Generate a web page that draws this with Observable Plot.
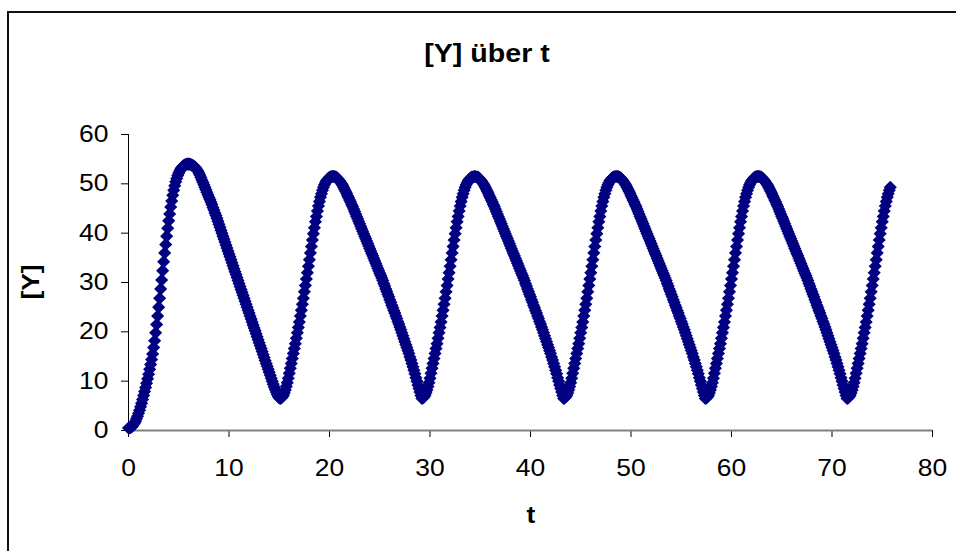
<!DOCTYPE html>
<html>
<head>
<meta charset="utf-8">
<script src="https://cdn.jsdelivr.net/npm/d3@7"></script>
<script src="https://cdn.jsdelivr.net/npm/@observablehq/plot@0.6"></script>
<style>
  html, body { margin: 0; padding: 0; background: #fff; }
  body { font-family: "Liberation Sans", Arial, sans-serif; color: #000; }
  #wrap { position: relative; width: 956px; height: 551px; overflow: hidden; }
  #frame { position: absolute; left: 7px; top: 11px; width: 1200px; height: 800px;
           border-left: 2px solid #111; border-top: 2px solid #111; }
  #chart { position: absolute; left: 0; top: 0; }
  .lbl { position: absolute; font-weight: bold; white-space: nowrap; line-height: 1; }
  #title { left: 487px; top: 53px; font-size: 26px; transform: translate(-50%, -50%) scaleX(1.1); }
  #ylab { left: 31px; top: 282px; font-size: 24px; transform: translate(-50%, -50%) rotate(-90deg) scaleX(1.1); }
  #xlab { left: 531px; top: 515px; font-size: 24px; transform: translate(-50%, -50%) scaleX(1.1); }
</style>
</head>
<body>
<div id="wrap">
  <div id="frame"></div>
  <div id="chart"></div>
  <div class="lbl" id="title">[Y] über t</div>
  <div class="lbl" id="ylab">[Y]</div>
  <div class="lbl" id="xlab">t</div>
</div>
<script>
// ---- data: [Y] sampled every 0.1 time units ----
const dt = 0.1;
const xTicks = [0, 10, 20, 30, 40, 50, 60, 70, 80];
const yTicks = [0, 10, 20, 30, 40, 50, 60];

// t = 0.0 .. 15.0 : first rise and fall
const yStart = [
0.5,0.5,0.6,0.7,0.9,1.2,1.5,1.9,2.4,2.9,
3.5,4.1,4.8,5.5,6.3,7.1,7.9,8.7,9.6,10.5,
11.4,12.4,13.4,14.4,15.5,16.8,18.2,19.8,21.5,23.2,
25.0,26.8,28.7,30.5,32.4,34.2,36.0,37.7,39.4,41.0,
42.5,43.9,45.3,46.5,47.7,48.7,49.6,50.4,51.1,51.7,
52.2,52.6,53.0,53.3,53.5,53.7,53.8,53.9,54.0,54.0,
54.0,54.0,53.9,53.8,53.7,53.6,53.4,53.2,52.9,52.6,
52.2,51.8,51.3,50.8,50.3,49.8,49.3,48.8,48.3,47.8,
47.3,46.8,46.3,45.8,45.2,44.7,44.1,43.6,43.0,42.4,
41.8,41.2,40.6,40.0,39.4,38.8,38.2,37.6,37.0,36.4,
35.8,35.2,34.6,34.0,33.4,32.8,32.2,31.6,31.0,30.4,
29.8,29.2,28.6,28.0,27.4,26.8,26.2,25.6,25.0,24.4,
23.8,23.2,22.6,22.0,21.4,20.8,20.2,19.6,19.0,18.4,
17.8,17.2,16.6,16.0,15.4,14.8,14.2,13.6,13.0,12.4,
11.8,11.2,10.6,10.0,9.4,8.8,8.3,7.8,7.3,6.9,
6.6];

// t = 15.1 .. 29.1
const yCycle1 = [
6.5,6.6,6.8,7.1,7.6,8.2,8.9,9.7,10.6,11.6,
12.6,13.6,14.6,15.6,16.6,17.6,18.7,19.8,20.9,22.0,
23.2,24.4,25.6,26.8,28.1,29.4,30.7,32.0,33.3,34.6,
36.0,37.3,38.6,39.9,41.1,42.3,43.4,44.5,45.5,46.4,
47.3,48.0,48.7,49.3,49.8,50.2,50.6,50.9,51.1,51.3,
51.4,51.5,51.5,51.5,51.5,51.4,51.3,51.1,50.9,50.6,
50.3,50.0,49.7,49.3,48.9,48.5,48.1,47.6,47.2,46.7,
46.3,45.8,45.4,44.9,44.4,43.9,43.4,42.9,42.4,41.9,
41.4,40.9,40.4,39.9,39.4,38.9,38.4,37.9,37.4,36.9,
36.4,35.9,35.4,34.9,34.4,33.9,33.4,32.9,32.4,31.9,
31.4,30.9,30.4,29.8,29.3,28.7,28.2,27.6,27.1,26.5,
26.0,25.4,24.9,24.3,23.8,23.2,22.7,22.1,21.6,21.0,
20.4,19.8,19.2,18.6,18.0,17.4,16.8,16.2,15.6,14.9,
14.3,13.6,12.9,12.2,11.5,10.7,10.0,9.2,8.5,7.8,
7.1];

// t = 29.2 .. 43.2
const yCycle2 = [
6.5,6.6,6.8,7.1,7.6,8.2,8.9,9.7,10.6,11.6,
12.6,13.6,14.6,15.6,16.6,17.6,18.7,19.8,20.9,22.0,
23.2,24.4,25.6,26.8,28.1,29.4,30.7,32.0,33.3,34.6,
36.0,37.3,38.6,39.9,41.1,42.3,43.4,44.5,45.5,46.4,
47.3,48.0,48.7,49.3,49.8,50.2,50.6,50.9,51.1,51.3,
51.4,51.4,51.5,51.5,51.4,51.4,51.3,51.1,50.9,50.6,
50.3,50.0,49.7,49.3,48.9,48.5,48.1,47.6,47.2,46.7,
46.3,45.8,45.4,44.9,44.4,43.9,43.4,42.9,42.4,41.9,
41.4,40.9,40.4,39.9,39.4,38.9,38.4,37.9,37.4,36.9,
36.4,35.9,35.4,34.9,34.4,33.9,33.4,32.9,32.4,31.9,
31.4,30.9,30.4,29.8,29.3,28.7,28.2,27.6,27.1,26.5,
26.0,25.4,24.9,24.3,23.8,23.2,22.7,22.1,21.6,21.0,
20.4,19.8,19.2,18.6,18.0,17.4,16.8,16.2,15.6,14.9,
14.3,13.6,12.9,12.2,11.5,10.7,10.0,9.2,8.5,7.8,
7.1];

// t = 43.3 .. 57.3
const yCycle3 = [
6.5,6.6,6.8,7.1,7.6,8.2,8.9,9.7,10.6,11.6,
12.6,13.6,14.6,15.6,16.6,17.6,18.7,19.8,20.9,22.0,
23.2,24.4,25.6,26.8,28.1,29.4,30.7,32.0,33.3,34.6,
36.0,37.3,38.6,39.9,41.1,42.3,43.4,44.5,45.5,46.4,
47.3,48.0,48.7,49.3,49.8,50.2,50.6,50.9,51.1,51.3,
51.4,51.5,51.5,51.5,51.5,51.4,51.3,51.1,50.9,50.6,
50.3,50.0,49.7,49.3,48.9,48.5,48.1,47.6,47.2,46.7,
46.3,45.8,45.4,44.9,44.4,43.9,43.4,42.9,42.4,41.9,
41.4,40.9,40.4,39.9,39.4,38.9,38.4,37.9,37.4,36.9,
36.4,35.9,35.4,34.9,34.4,33.9,33.4,32.9,32.4,31.9,
31.4,30.9,30.4,29.8,29.3,28.7,28.2,27.6,27.1,26.5,
26.0,25.4,24.9,24.3,23.8,23.2,22.7,22.1,21.6,21.0,
20.4,19.8,19.2,18.6,18.0,17.4,16.8,16.2,15.6,14.9,
14.3,13.6,12.9,12.2,11.5,10.7,10.0,9.2,8.5,7.8,
7.1];

// t = 57.4 .. 71.4
const yCycle4 = [
6.5,6.6,6.8,7.1,7.6,8.2,8.9,9.7,10.6,11.6,
12.6,13.6,14.6,15.6,16.6,17.6,18.7,19.8,20.9,22.0,
23.2,24.4,25.6,26.8,28.1,29.4,30.7,32.0,33.3,34.6,
36.0,37.3,38.6,39.9,41.1,42.3,43.4,44.5,45.5,46.4,
47.3,48.0,48.7,49.3,49.8,50.2,50.6,50.9,51.1,51.3,
51.4,51.5,51.5,51.5,51.5,51.4,51.3,51.1,50.9,50.6,
50.3,50.0,49.7,49.3,48.9,48.5,48.1,47.6,47.2,46.7,
46.3,45.8,45.4,44.9,44.4,43.9,43.4,42.9,42.4,41.9,
41.4,40.9,40.4,39.9,39.4,38.9,38.4,37.9,37.4,36.9,
36.4,35.9,35.4,34.9,34.4,33.9,33.4,32.9,32.4,31.9,
31.4,30.9,30.4,29.8,29.3,28.7,28.2,27.6,27.1,26.5,
26.0,25.4,24.9,24.3,23.8,23.2,22.7,22.1,21.6,21.0,
20.4,19.8,19.2,18.6,18.0,17.4,16.8,16.2,15.6,14.9,
14.3,13.6,12.9,12.2,11.5,10.7,10.0,9.2,8.5,7.8,
7.1];

// t = 71.5 .. 75.8 : final rise
const yEnd = [
6.5,6.6,6.8,7.1,7.6,8.2,8.9,9.7,10.6,11.6,
12.6,13.6,14.6,15.6,16.6,17.6,18.7,19.8,20.9,22.0,
23.2,24.4,25.6,26.8,28.1,29.4,30.7,32.0,33.3,34.6,
36.0,37.3,38.6,39.9,41.1,42.3,43.4,44.5,45.5,46.4,
47.3,48.0,48.7,49.3];

const segmentStarts = [0, 15.1, 29.2, 43.3, 57.4, 71.5];
const segmentValues = [yStart, yCycle1, yCycle2, yCycle3, yCycle4, yEnd];

const data = [];
segmentValues.forEach((ys, k) => {
  ys.forEach((y, i) => data.push({ t: +(segmentStarts[k] + i * dt).toFixed(1), y }));
});

const chart = Plot.plot({
  width: 956,
  height: 551,
  marginLeft: 128,
  marginRight: 24,
  marginTop: 134,
  marginBottom: 121,
  style: { background: "transparent", fontFamily: "'Liberation Sans', Arial, sans-serif", fontSize: "23px", color: "#000", overflow: "visible" },
  x: { domain: [0, 80], label: null },
  y: { domain: [0, 60], label: null },
  marks: [
    Plot.axisX({ ticks: xTicks, tickSize: 7, tickPadding: 22, tickFormat: d => String(d), label: null, fontSize: 23 }),
    Plot.axisY({ ticks: yTicks, tickSize: 7, tickPadding: 13, tickFormat: d => String(d), label: null, fontSize: 23 }),
    Plot.ruleY([0], { stroke: "#808080", strokeWidth: 2 }),
    Plot.ruleX([0], { stroke: "#000", strokeWidth: 1 }),
    Plot.dot(data, { x: "t", y: "y", symbol: "diamond2", r: 5.9, fill: "#000080", stroke: "none" })
  ]
});

// stretch tick labels horizontally like the original export
d3.select(chart).selectAll("g[aria-label$='tick label'] text").each(function () {
  const tr = this.getAttribute("transform") || "";
  this.setAttribute("transform", tr + " scale(1.15,1)");
});

document.getElementById("chart").appendChild(chart);
</script>
</body>
</html>
